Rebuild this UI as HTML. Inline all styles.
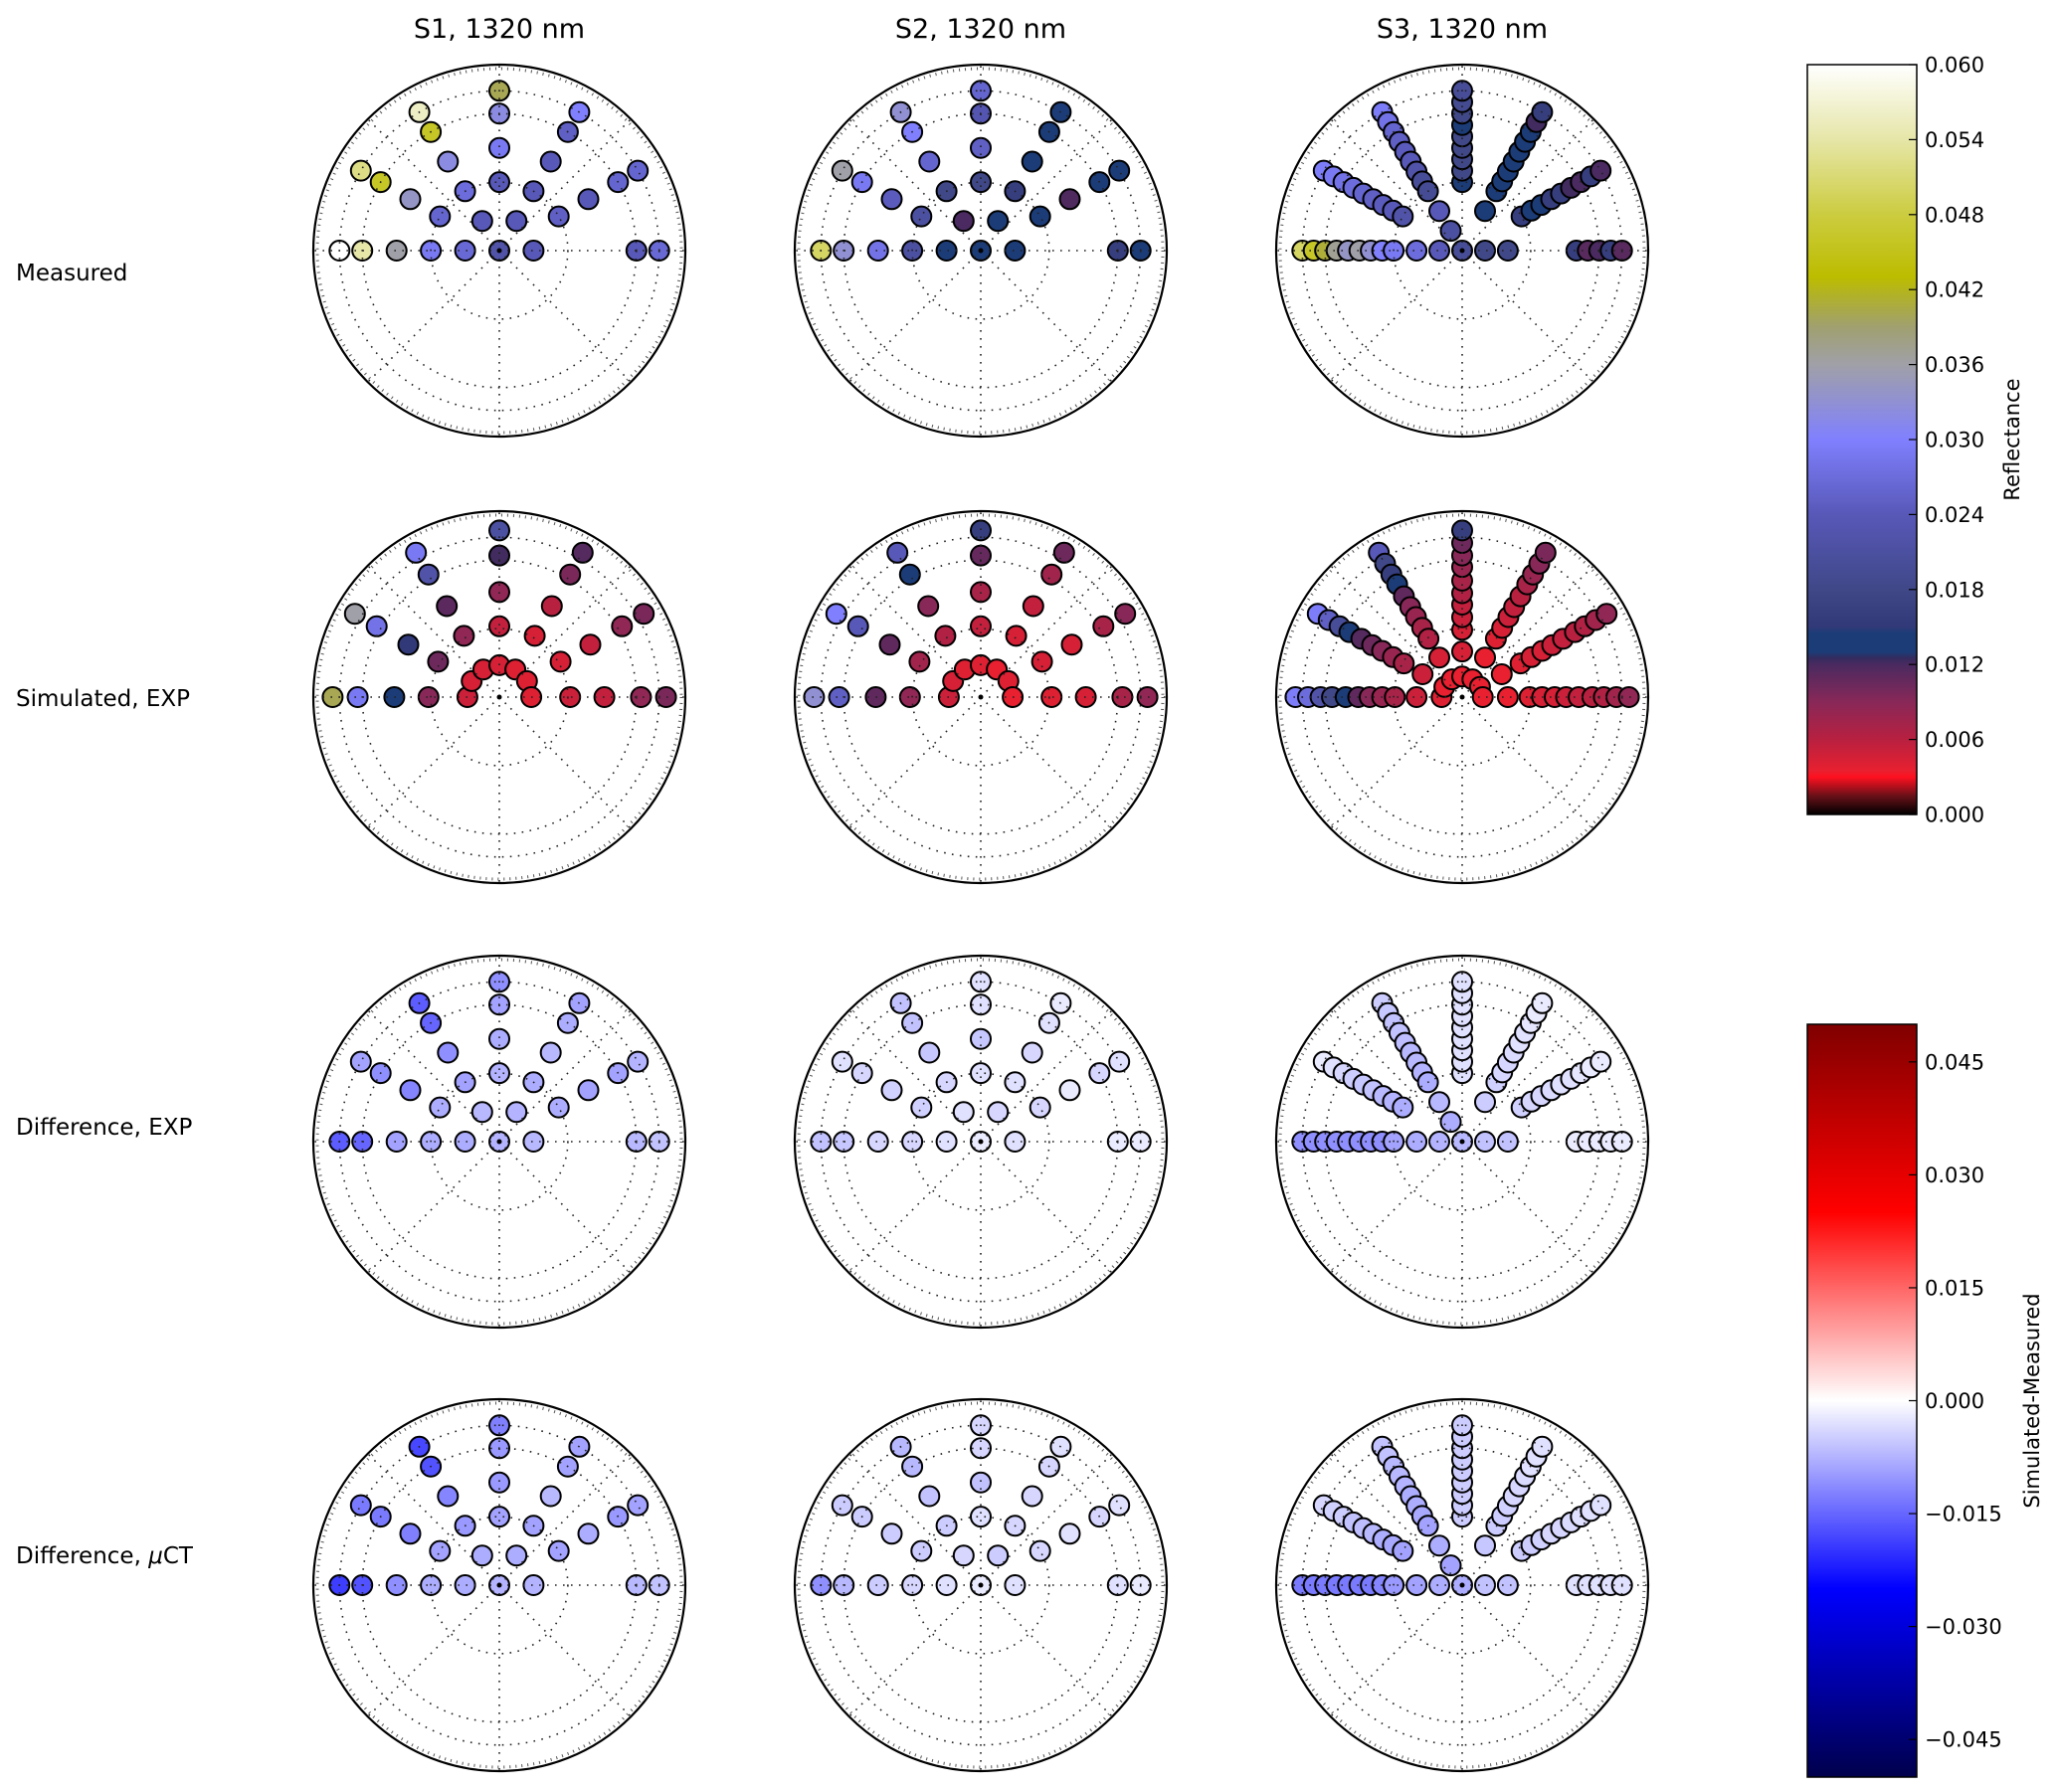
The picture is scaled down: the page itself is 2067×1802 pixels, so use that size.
<!DOCTYPE html>
<html><head><meta charset="utf-8">
<style>
html,body{margin:0;padding:0;background:#fff;}
svg{display:block;font-family:"DejaVu Sans","Liberation Sans",sans-serif;}
</style></head>
<body>
<svg id="fig" xmlns="http://www.w3.org/2000/svg" width="2067" height="1802" viewBox="0 0 2067 1802">
<defs id="defs"></defs>
<g id="titles" font-size="27" text-anchor="middle" fill="#000">
<text x="502" y="38">S1, 1320 nm</text>
<text x="986" y="38">S2, 1320 nm</text>
<text x="1470" y="38">S3, 1320 nm</text>
</g>
<g id="rowlabels" font-size="23" fill="#000">
<text x="16" y="282">Measured</text>
<text x="16" y="710">Simulated, EXP</text>
<text x="16" y="1141">Difference, EXP</text>
<text x="16" y="1572">Difference, <tspan font-style="italic">μ</tspan>CT</text>
</g>
<g id="plots"></g>
<g id="cbars"></g>
</svg>
<script>
// ---------- zenith grids ----------
const zenMeas12 = [15,30,45,60,70];
const zenSim12 = [14,31,46,62,73];
const zenMeas3 = [10,20,30,35,40,45,50,55,60,65,70];
const zenSim3 = [9,20,29.5,35,40.5,45.5,51,57,62,67.5,73];
const azimuths = [0,30,60,90,120,150,180];

// ---------- Measured reflectance ----------
const measS1_a0   = [0.024,null,null,0.024,0.0265];
const measS1_a30  = [null,0.025,0.024,0.026,0.026];
const measS1_a60  = [0.024,0.024,0.024,0.025,0.030];
const measS1_a90  = [null,0.024,0.029,0.032,0.040];
const measS1_a120 = [0.024,0.027,0.032,0.046,0.056];
const measS1_a150 = [null,0.026,0.034,0.046,0.052];
const measS1_a180 = [0.0265,0.029,0.036,0.054,0.060];
const measS1_center = 0.022;

const measS2_a0   = [0.014,null,null,0.016,0.0138];
const measS2_a30  = [null,0.014,0.0118,0.0138,0.0138];
const measS2_a60  = [0.0138,0.016,0.0138,0.0138,0.0138];
const measS2_a90  = [null,0.018,0.025,0.023,0.026];
const measS2_a120 = [0.012,0.018,0.026,0.030,0.033];
const measS2_a150 = [null,0.021,0.0245,0.029,0.036];
const measS2_a180 = [0.0138,0.021,0.028,0.033,0.050];
const measS2_center = 0.0138;

const measS3_a0   = [0.018,0.018,null,null,null,null,0.016,0.0113,0.012,0.016,0.0113];
const measS3_a30  = [null,null,0.016,0.0145,0.0145,0.016,0.016,0.0122,0.012,0.016,0.012];
const measS3_a60  = [null,0.014,0.014,0.0145,0.014,0.014,0.014,0.014,0.0145,0.0122,0.016];
const measS3_a90  = [null,null,0.0138,0.018,0.018,0.018,0.018,0.0138,0.018,0.019,0.020];
const measS3_a120 = [0.021,0.024,0.0195,0.020,0.022,0.024,0.0245,0.025,0.026,0.028,0.0295];
const measS3_a150 = [null,null,0.022,0.024,0.0245,0.025,0.026,0.027,0.028,0.029,0.0295];
const measS3_a180 = [0.024,0.027,0.029,0.030,0.033,0.036,0.034,0.037,0.041,0.046,0.050];
const measS3_center = 0.020;

// ---------- Simulated EXP reflectance ----------
const simS1_a0   = [0.004,0.005,0.0055,0.0085,0.0097];
const simS1_a30  = [0.004,0.0045,0.0055,0.0085,0.0097];
const simS1_a60  = [0.004,0.0045,0.006,0.0097,0.0115];
const simS1_a90  = [0.0045,0.0055,0.0085,0.0122,0.021];
const simS1_a120 = [0.0045,0.0085,0.0112,0.022,0.029];
const simS1_a150 = [0.0045,0.0103,0.015,0.028,0.036];
const simS1_a180 = [0.005,0.009,0.0138,0.029,0.040];

const simS2_a0   = [0.0035,0.004,0.0045,0.007,0.0085];
const simS2_a30  = [0.004,0.0045,0.0045,0.007,0.009];
const simS2_a60  = [0.0035,0.0045,0.0055,0.0075,0.0103];
const simS2_a90  = [0.004,0.0055,0.007,0.0107,0.016];
const simS2_a120 = [0.004,0.0065,0.009,0.0138,0.024];
const simS2_a150 = [0.0045,0.0075,0.011,0.024,0.030];
const simS2_a180 = [0.005,0.0085,0.011,0.025,0.033];

const simS3_a0   = [0.0035,0.0035,0.004,0.0045,0.0045,0.005,0.0055,0.006,0.0065,0.0075,0.0085];
const simS3_a30  = [0.0035,0.0035,0.004,0.0045,0.0045,0.005,0.0055,0.006,0.0065,0.0075,0.0085];
const simS3_a60  = [0.0035,0.0035,0.004,0.0045,0.005,0.0055,0.006,0.007,0.008,0.009,0.0097];
const simS3_a90  = [0.0035,0.0045,0.0045,0.005,0.0055,0.0065,0.007,0.008,0.009,0.0103,0.016];
const simS3_a120 = [0.0035,0.0045,0.0065,0.007,0.008,0.009,0.011,0.0138,0.016,0.018,0.024];
const simS3_a150 = [0.0035,0.005,0.007,0.008,0.009,0.0103,0.0115,0.0138,0.020,0.025,0.0295];
const simS3_a180 = [0.004,0.005,0.007,0.008,0.009,0.011,0.0145,0.018,0.022,0.027,0.0295];

// ---------- Difference EXP ----------
const dexS1_a0   = [-0.007,null,null,-0.007,-0.006];
const dexS1_a30  = [null,-0.008,-0.009,-0.009,-0.0075];
const dexS1_a60  = [-0.0075,-0.008,-0.007,-0.008,-0.009];
const dexS1_a90  = [null,-0.0075,-0.008,-0.009,-0.011];
const dexS1_a120 = [-0.007,-0.009,-0.011,-0.015,-0.016];
const dexS1_a150 = [null,-0.008,-0.012,-0.011,-0.009];
const dexS1_a180 = [-0.008,-0.008,-0.009,-0.015,-0.016];
const dexS1_center = -0.0075;

const dexS2_a0   = [-0.003,null,null,-0.002,-0.002];
const dexS2_a30  = [null,-0.004,-0.002,-0.004,-0.003];
const dexS2_a60  = [-0.004,-0.003,-0.004,-0.003,-0.002];
const dexS2_a90  = [null,-0.003,-0.0055,-0.003,-0.003];
const dexS2_a120 = [-0.003,-0.004,-0.0055,-0.006,-0.006];
const dexS2_a150 = [null,-0.0045,-0.0045,-0.004,-0.003];
const dexS2_a180 = [-0.003,-0.004,-0.004,-0.0055,-0.006];
const dexS2_center = -0.002;

const dexS3_a0   = [-0.006,-0.006,null,null,null,null,-0.002,-0.002,-0.002,-0.002,-0.002];
const dexS3_a30  = [null,null,-0.0045,-0.004,-0.004,-0.0035,-0.003,-0.003,-0.0025,-0.002,-0.002];
const dexS3_a60  = [null,-0.005,-0.0045,-0.004,-0.004,-0.0035,-0.003,-0.003,-0.0025,-0.002,-0.002];
const dexS3_a90  = [null,null,-0.003,-0.003,-0.003,-0.003,-0.003,-0.003,-0.003,-0.003,-0.003];
const dexS3_a120 = [-0.008,-0.007,-0.008,-0.0075,-0.007,-0.007,-0.0065,-0.006,-0.006,-0.0055,-0.005];
const dexS3_a150 = [null,null,-0.008,-0.0075,-0.007,-0.006,-0.0055,-0.005,-0.004,-0.003,-0.002];
const dexS3_a180 = [-0.0075,-0.008,-0.009,-0.011,-0.011,-0.011,-0.011,-0.011,-0.011,-0.011,-0.011];
const dexS3_center = -0.007;

// ---------- Difference µCT ----------
const dctS1_a0   = [-0.0075,null,null,-0.007,-0.006];
const dctS1_a30  = [null,-0.009,-0.008,-0.010,-0.009];
const dctS1_a60  = [-0.008,-0.009,-0.007,-0.009,-0.009];
const dctS1_a90  = [null,-0.009,-0.010,-0.010,-0.0125];
const dctS1_a120 = [-0.008,-0.010,-0.012,-0.017,-0.018];
const dctS1_a150 = [null,-0.009,-0.0125,-0.013,-0.013];
const dctS1_a180 = [-0.008,-0.008,-0.011,-0.017,-0.019];
const dctS1_center = -0.0075;

const dctS2_a0   = [-0.003,null,null,-0.003,-0.002];
const dctS2_a30  = [null,-0.004,-0.003,-0.004,-0.003];
const dctS2_a60  = [-0.005,-0.004,-0.004,-0.004,-0.003];
const dctS2_a90  = [null,-0.003,-0.006,-0.004,-0.004];
const dctS2_a120 = [-0.004,-0.005,-0.006,-0.007,-0.007];
const dctS2_a150 = [null,-0.005,-0.005,-0.005,-0.005];
const dctS2_a180 = [-0.003,-0.004,-0.005,-0.007,-0.011];
const dctS2_center = -0.002;

const dctS3_a0   = [-0.006,-0.006,null,null,null,null,-0.003,-0.003,-0.003,-0.003,-0.003];
const dctS3_a30  = [null,null,-0.005,-0.005,-0.0045,-0.004,-0.004,-0.0035,-0.003,-0.003,-0.003];
const dctS3_a60  = [null,-0.0055,-0.005,-0.005,-0.0045,-0.004,-0.004,-0.0035,-0.003,-0.003,-0.003];
const dctS3_a90  = [null,null,-0.005,-0.005,-0.005,-0.005,-0.005,-0.005,-0.005,-0.005,-0.005];
const dctS3_a120 = [-0.009,-0.008,-0.009,-0.0085,-0.008,-0.008,-0.0075,-0.007,-0.007,-0.006,-0.006];
const dctS3_a150 = [null,null,-0.009,-0.0085,-0.008,-0.007,-0.0065,-0.006,-0.005,-0.0045,-0.004];
const dctS3_a180 = [-0.008,-0.009,-0.010,-0.012,-0.013,-0.013,-0.013,-0.013,-0.013,-0.013,-0.013];
const dctS3_center = -0.008;

// ---------- colorbar ticks ----------
const reflTicks = [0.000,0.006,0.012,0.018,0.024,0.030,0.036,0.042,0.048,0.054,0.060];
const diffTicks = [-0.045,-0.030,-0.015,0.000,0.015,0.030,0.045];

// ---------- colormaps ----------
const reflStops = [[0,'#000000'],[0.0015,'#6a1018'],[0.003,'#ff1020'],[0.0035,'#e82030'],[0.006,'#b82040'],[0.009,'#882858'],[0.012,'#4a2a60'],[0.0127,'#2c2c5c'],[0.0128,'#1c3c78'],[0.0148,'#1c3c78'],[0.0149,'#303878'],[0.018,'#404888'],[0.024,'#5858b8'],[0.030,'#8080ff'],[0.036,'#a0a0a8'],[0.039,'#a0a070'],[0.043,'#bcbc00'],[0.048,'#cccc40'],[0.054,'#e6e6a8'],[0.060,'#ffffff']];
const diffStops = [[-0.05,'#00004c'],[-0.025,'#0000ff'],[0,'#ffffff'],[0.025,'#ff0000'],[0.05,'#800000']];
function hex2rgb(h){return [parseInt(h.slice(1,3),16),parseInt(h.slice(3,5),16),parseInt(h.slice(5,7),16)];}
function cmap(stops,v){
  if(v<=stops[0][0]) return stops[0][1];
  for(let i=1;i<stops.length;i++){
    if(v<=stops[i][0]){
      const a=stops[i-1],b=stops[i],t=(v-a[0])/(b[0]-a[0]);
      const ca=hex2rgb(a[1]),cb=hex2rgb(b[1]);
      return 'rgb('+ca.map((c,k)=>Math.round(c+(cb[k]-c)*t)).join(',')+')';
    }
  }
  return stops[stops.length-1][1];
}

// ---------- geometry ----------
const NS='http://www.w3.org/2000/svg';
const colX = [502,986,1470];
const rowY = [252,701,1148,1594];
const R = 187;
const RMAXDEG = 81;
function rScale(z){return z/RMAXDEG*186;}
function mk(tag,attrs,parent){const e=document.createElementNS(NS,tag);for(const k in attrs)e.setAttribute(k,attrs[k]);parent.appendChild(e);return e;}

const plotsG = document.getElementById('plots');
const rowNames=['measured','simulated-exp','difference-exp','difference-uct'];
const colNames=['s1','s2','s3'];

function drawPlot(ci,ri,zen,rays,center,stops){
  const cx=colX[ci], cy=rowY[ri];
  const g=mk('g',{},plotsG);
  
  
  mk('circle',{cx:cx,cy:cy,r:R,fill:'#fff',stroke:'none'},g);
  const pts=[];
  azimuths.forEach((az,ai)=>{
    rays[ai].forEach((v,zi)=>{
      if(v===null) return;
      const r=rScale(zen[zi]);const a=az*Math.PI/180;
      pts.push({x:cx+r*Math.cos(a),y:cy-r*Math.sin(a),v:v,az:az,z:zen[zi]});
    });
  });
  if(center!==null) pts.push({x:cx,y:cy,v:center,az:0,z:0});
  pts.sort((p,q)=>(p.x-q.x)||(q.y-p.y));
  const mg=mk('g',{},g);
  
  
  pts.forEach(p=>{
    const c=mk('circle',{cx:p.x.toFixed(1),cy:p.y.toFixed(1),r:10,fill:cmap(stops,p.v),stroke:'#000','stroke-width':2},mg);
    
    
  });
  const gg=mk('g',{fill:'none',stroke:'#222','stroke-width':1.6,'stroke-dasharray':'1.6,6.4'},g);
  
  
  [30,60,70].forEach(z=>mk('circle',{cx:cx,cy:cy,r:rScale(z),fill:'none'},gg));
  for(let a=0;a<360;a+=45){const t=a*Math.PI/180;mk('line',{x1:cx,y1:cy,x2:cx+R*Math.cos(t),y2:cy-R*Math.sin(t)},gg);}
  mk('circle',{cx:cx,cy:cy,r:R-4,fill:'none',stroke:'#555','stroke-width':3,'stroke-dasharray':'1,5'},g);
  mk('circle',{cx:cx,cy:cy,r:2.5,fill:'#000'},g);
  const oc=mk('circle',{cx:cx,cy:cy,r:R,fill:'none',stroke:'#000','stroke-width':2.2},g);
  
  
}

drawPlot(0,0,zenMeas12,[measS1_a0,measS1_a30,measS1_a60,measS1_a90,measS1_a120,measS1_a150,measS1_a180],measS1_center,reflStops);
drawPlot(1,0,zenMeas12,[measS2_a0,measS2_a30,measS2_a60,measS2_a90,measS2_a120,measS2_a150,measS2_a180],measS2_center,reflStops);
drawPlot(2,0,zenMeas3,[measS3_a0,measS3_a30,measS3_a60,measS3_a90,measS3_a120,measS3_a150,measS3_a180],measS3_center,reflStops);
drawPlot(0,1,zenSim12,[simS1_a0,simS1_a30,simS1_a60,simS1_a90,simS1_a120,simS1_a150,simS1_a180],null,reflStops);
drawPlot(1,1,zenSim12,[simS2_a0,simS2_a30,simS2_a60,simS2_a90,simS2_a120,simS2_a150,simS2_a180],null,reflStops);
drawPlot(2,1,zenSim3,[simS3_a0,simS3_a30,simS3_a60,simS3_a90,simS3_a120,simS3_a150,simS3_a180],null,reflStops);
drawPlot(0,2,zenMeas12,[dexS1_a0,dexS1_a30,dexS1_a60,dexS1_a90,dexS1_a120,dexS1_a150,dexS1_a180],dexS1_center,diffStops);
drawPlot(1,2,zenMeas12,[dexS2_a0,dexS2_a30,dexS2_a60,dexS2_a90,dexS2_a120,dexS2_a150,dexS2_a180],dexS2_center,diffStops);
drawPlot(2,2,zenMeas3,[dexS3_a0,dexS3_a30,dexS3_a60,dexS3_a90,dexS3_a120,dexS3_a150,dexS3_a180],dexS3_center,diffStops);
drawPlot(0,3,zenMeas12,[dctS1_a0,dctS1_a30,dctS1_a60,dctS1_a90,dctS1_a120,dctS1_a150,dctS1_a180],dctS1_center,diffStops);
drawPlot(1,3,zenMeas12,[dctS2_a0,dctS2_a30,dctS2_a60,dctS2_a90,dctS2_a120,dctS2_a150,dctS2_a180],dctS2_center,diffStops);
drawPlot(2,3,zenMeas3,[dctS3_a0,dctS3_a30,dctS3_a60,dctS3_a90,dctS3_a120,dctS3_a150,dctS3_a180],dctS3_center,diffStops);

// ---------- colorbars ----------
const defs=document.getElementById('defs');
const cbG=document.getElementById('cbars');
function colorbar(id,name,stops,vmin,vmax,x0,x1,y0,y1,ticks,label,labelX,fmt){
  const grad=mk('linearGradient',{id:id,x1:0,y1:1,x2:0,y2:0},defs);
  const N=120;
  for(let i=0;i<=N;i++){const v=vmin+(vmax-vmin)*i/N;mk('stop',{offset:(i/N).toFixed(4),'stop-color':cmap(stops,v)},grad);}
  const g=mk('g',{},cbG);
  
  
  mk('rect',{x:x0,y:y0,width:x1-x0,height:y1-y0,fill:'url(#'+id+')',stroke:'#000','stroke-width':1.5},g);
  const yv=v=>y1-(v-vmin)/(vmax-vmin)*(y1-y0);
  ticks.forEach(t=>{
    const y=yv(t);
    mk('line',{x1:x1-8,y1:y,x2:x1,y2:y,stroke:'#000','stroke-width':1.2},g);
    const tx=mk('text',{x:1935,y:y+7.5,'font-size':21,fill:'#000'},g);
    tx.textContent=fmt(t);
    
    
  });
  const cyL=(y0+y1)/2;
  const lt=mk('text',{x:labelX,y:cyL,'font-size':21,'text-anchor':'middle',transform:'rotate(-90 '+labelX+' '+cyL+')',fill:'#000'},g);
  lt.textContent=label;
  
  
}
colorbar('gRefl','reflectance-colorbar',reflStops,0,0.06,1817,1927,65,819,reflTicks,'Reflectance',2030,t=>t.toFixed(3));
colorbar('gDiff','difference-colorbar',diffStops,-0.05,0.05,1817,1927,1030,1787,diffTicks,'Simulated-Measured',2050,t=>(t<0?'\u2212':'')+Math.abs(t).toFixed(3));
</script>
</body></html>
